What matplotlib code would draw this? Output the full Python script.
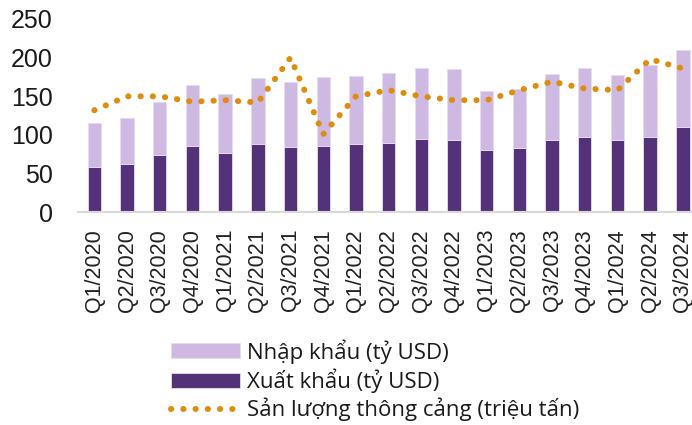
import matplotlib
matplotlib.use("Agg")
import matplotlib.pyplot as plt
import numpy as np

# data
quarters = ["Q1/2020", "Q2/2020", "Q3/2020", "Q4/2020",
            "Q1/2021", "Q2/2021", "Q3/2021", "Q4/2021",
            "Q1/2022", "Q2/2022", "Q3/2022", "Q4/2022",
            "Q1/2023", "Q2/2023", "Q3/2023", "Q4/2023",
            "Q1/2024", "Q2/2024", "Q3/2024"]

exports = [59, 62, 74, 86, 77, 88, 85, 86, 88, 90, 95, 93,
           81, 83, 93, 97, 93, 97, 110]
totals = [115, 122, 143, 164, 153, 174, 168, 175, 176, 180, 187, 185,
          157, 160, 179, 187, 178, 191, 210]
imports = [t - e for t, e in zip(totals, exports)]
throughput = [132, 150, 150, 143, 145, 142, 200, 101, 150, 158, 150, 145,
              145, 158, 169, 160, 158, 198, 186]

# style
DARK = "#54327A"
LIGHT = "#CDB9E2"
EDGE = "#E6DDF0"
ORANGE = "#DE8C0C"
BAR_WIDTH = 0.41
DOTS = (0, (0.05, 2.0))

x = np.arange(len(quarters))

fig = plt.figure(figsize=(6.92, 4.25), dpi=100)
ax = fig.add_axes([78 / 692, 1 - 212.3 / 425, 614 / 692, 193.3 / 425])

h_exp = ax.bar(x, exports, width=BAR_WIDTH, color=DARK, edgecolor=EDGE,
               linewidth=0.6, zorder=2)
h_imp = ax.bar(x, imports, bottom=exports, width=BAR_WIDTH, color=LIGHT,
               edgecolor=EDGE, linewidth=0.6, zorder=2)
h_line, = ax.plot(x, throughput, color=ORANGE, linewidth=4.3,
                  linestyle=DOTS, dash_capstyle="round", zorder=3)

ax.set_xlim(-0.5, 18.28)
ax.set_ylim(0, 250)
ax.set_yticks([0, 50, 100, 150, 200, 250])
ax.set_xticks(x)
ax.set_xticklabels(quarters, rotation=90, fontsize=15.5,
                   family=["Liberation Sans", "DejaVu Sans"], color="#222222")
for lab in ax.get_yticklabels():
    lab.set_fontsize(18)
    lab.set_family(["Liberation Sans", "DejaVu Sans"])
    lab.set_color("#1a1a1a")
ax.tick_params(axis="both", length=0)
ax.tick_params(axis="y", pad=18)
ax.tick_params(axis="x", pad=12)

for s in ["top", "right", "left"]:
    ax.spines[s].set_visible(False)
ax.spines["bottom"].set_color("#d9d9d9")
ax.spines["bottom"].set_linewidth(1.5)

leg = fig.legend([h_imp, h_exp, h_line],
                 ["Nhập khẩu (tỷ USD)", "Xuất khẩu (tỷ USD)",
                  "Sản lượng thông cảng (triệu tấn)"],
                 loc="upper left", bbox_to_anchor=(171 / 692, 1 - 339 / 425),
                 frameon=False, borderpad=0, borderaxespad=0,
                 handlelength=3.1, handleheight=0.65, handletextpad=0.3,
                 labelspacing=0.22,
                 prop={"family": ["Open Sans", "DejaVu Sans"], "size": 16})
for t in leg.get_texts():
    t.set_color("#1a1a1a")

fig.savefig("out.png", dpi=100)
